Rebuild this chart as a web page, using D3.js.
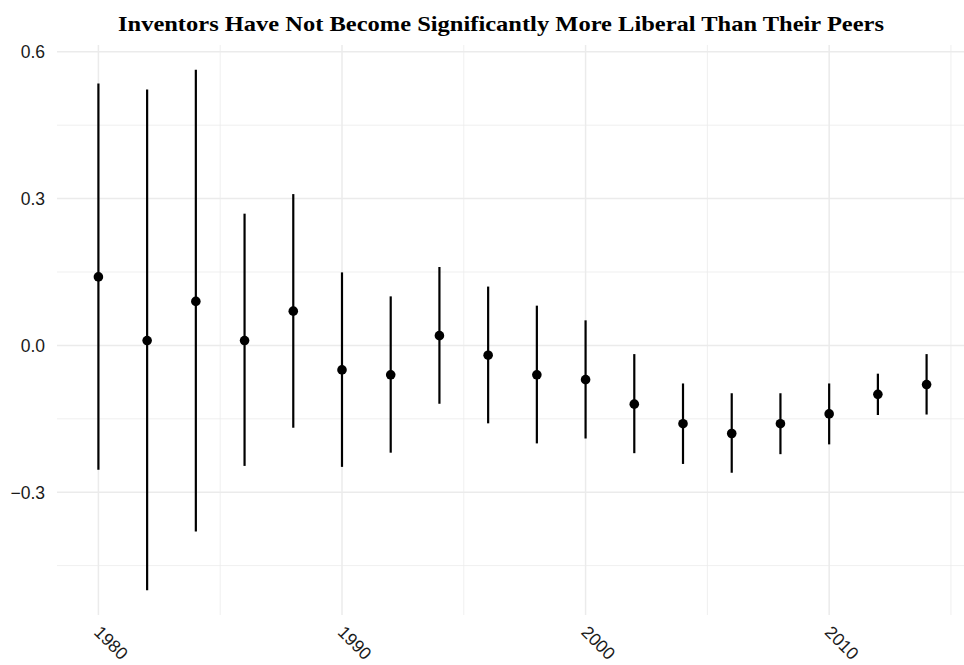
<!DOCTYPE html>
<html>
<head>
<meta charset="utf-8">
<script src="https://cdn.jsdelivr.net/npm/d3@7"></script>
<style>
  html, body { margin: 0; padding: 0; background: #fff; }
  svg { display: block; }
</style>
</head>
<body>
<svg id="chart" width="964" height="665"></svg>
<script>
// Survey years and the estimated gap (inventors minus peers) with its interval
const years = [1980, 1982, 1984, 1986, 1988, 1990, 1992, 1994, 1996, 1998,
               2000, 2002, 2004, 2006, 2008, 2010, 2012, 2014];
const estimate = [0.14, 0.01, 0.09, 0.01, 0.07, -0.05, -0.06, 0.02, -0.02, -0.06,
                  -0.07, -0.12, -0.16, -0.18, -0.16, -0.14, -0.10, -0.08];
const upper = [0.533, 0.521, 0.561, 0.267, 0.307, 0.147, 0.098, 0.158, 0.118, 0.079,
               0.049, -0.020, -0.080, -0.100, -0.100, -0.080, -0.060, -0.020];
const lower = [-0.252, -0.498, -0.378, -0.244, -0.166, -0.246, -0.217, -0.117, -0.157, -0.198,
               -0.188, -0.218, -0.240, -0.258, -0.220, -0.200, -0.140, -0.139];
const xTicks = [1980, 1990, 2000, 2010];
const xMinor = [1985, 1995, 2005, 2015];
const yTicks = [0.6, 0.3, 0.0, -0.3];
const yMinor = [0.45, 0.15, -0.15, -0.45];
const title = "Inventors Have Not Become Significantly More Liberal Than Their Peers";

const svg = d3.select("#chart");
const panel = { left: 57, right: 968, top: 45, bottom: 615 };

// Axis domains padded by 5% of the data span on each side
const xSpan = d3.max(years) - d3.min(years);
const x = d3.scaleLinear()
  .domain([d3.min(years) - 0.05 * xSpan, d3.max(years) + 0.05 * xSpan])
  .range([panel.left, panel.right]);
const yMin = d3.min(lower), yMax = d3.max(upper);
const ySpan = yMax - yMin;
const y = d3.scaleLinear()
  .domain([yMin - 0.05 * ySpan, yMax + 0.05 * ySpan])
  .range([panel.bottom, panel.top]);

const grid = svg.append("g");
// minor grid
grid.selectAll("line.hminor").data(yMinor).join("line")
  .attr("x1", panel.left).attr("x2", 964)
  .attr("y1", d => y(d)).attr("y2", d => y(d))
  .attr("stroke", "#ebebeb").attr("stroke-width", 0.8);
grid.selectAll("line.vminor").data(xMinor).join("line")
  .attr("y1", panel.top).attr("y2", panel.bottom)
  .attr("x1", d => x(d)).attr("x2", d => x(d))
  .attr("stroke", "#ebebeb").attr("stroke-width", 0.8);
// major grid
grid.selectAll("line.hmajor").data(yTicks).join("line")
  .attr("x1", panel.left).attr("x2", 964)
  .attr("y1", d => y(d)).attr("y2", d => y(d))
  .attr("stroke", "#ebebeb").attr("stroke-width", 1.5);
grid.selectAll("line.vmajor").data(xTicks).join("line")
  .attr("y1", panel.top).attr("y2", panel.bottom)
  .attr("x1", d => x(d)).attr("x2", d => x(d))
  .attr("stroke", "#ebebeb").attr("stroke-width", 1.5);

// y axis labels
const fmt = d3.format(".1f");
svg.append("g").selectAll("text").data(yTicks).join("text")
  .attr("x", 45).attr("y", d => y(d))
  .attr("dy", "0.36em")
  .attr("text-anchor", "end")
  .attr("font-family", "'Liberation Sans', Arial, sans-serif")
  .attr("font-size", 17.5)
  .attr("fill", "#1a1a1a")
  .text(d => fmt(d).replace("-", "\u2212"));

// x axis labels, rotated
svg.append("g").selectAll("text").data(xTicks).join("text")
  .attr("transform", d => `translate(${x(d) - 1},${629}) rotate(45)`)
  .attr("text-anchor", "start")
  .attr("dy", "0.35em")
  .attr("font-family", "'Liberation Sans', Arial, sans-serif")
  .attr("font-size", 17.5)
  .attr("fill", "#1a1a1a")
  .text(d => d);

// error bars
const rows = years.map((yr, i) => ({ yr, est: estimate[i], lo: lower[i], hi: upper[i] }));
svg.append("g").selectAll("line").data(rows).join("line")
  .attr("x1", d => x(d.yr)).attr("x2", d => x(d.yr))
  .attr("y1", d => y(d.lo)).attr("y2", d => y(d.hi))
  .attr("stroke", "#000").attr("stroke-width", 2.2)
  .attr("stroke-linecap", "square");

// point estimates
svg.append("g").selectAll("circle").data(rows).join("circle")
  .attr("cx", d => x(d.yr)).attr("cy", d => y(d.est))
  .attr("r", 4.8).attr("fill", "#000");

// title
svg.append("text")
  .attr("x", 501).attr("y", 31)
  .attr("text-anchor", "middle")
  .attr("font-family", "'Palatino Linotype', Palatino, 'Book Antiqua', 'Liberation Serif', serif")
  .attr("font-weight", "bold")
  .attr("font-size", 21.5)
  .attr("textLength", 766)
  .attr("lengthAdjust", "spacingAndGlyphs")
  .attr("fill", "#000")
  .text(title);
</script>
</body>
</html>
